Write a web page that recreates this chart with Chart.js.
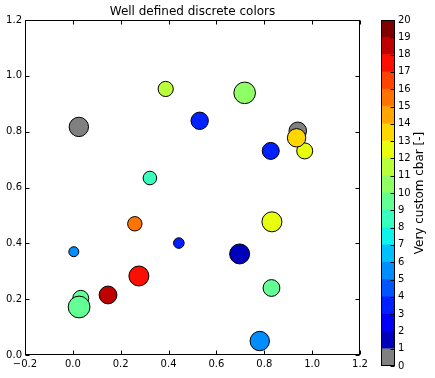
<!DOCTYPE html>
<html>
<head>
<meta charset="utf-8">
<script src="https://cdn.jsdelivr.net/npm/chart.js@4.4.1/dist/chart.umd.min.js"></script>
<style>
  body { margin: 0; background: #fff; }
  #wrap { position: relative; width: 435px; height: 378px; }
  canvas { position: absolute; top: 0; }
</style>
</head>
<body>
<div id="wrap">
  <canvas id="scatter" width="435" height="378" style="left:0"></canvas>
  <canvas id="cbar" width="59" height="378" style="left:376px"></canvas>
</div>
<script>
// scatter points, drawn in this order
var xs     = [0.025, 0.388, 0.530, 0.322, 0.718, 0.827, 0.940, 0.969, 0.935, 0.259, 0.443, 0.004, 0.276, 0.147, 0.033, 0.026, 0.832, 0.697, 0.830, 0.781];
var ys     = [0.817, 0.953, 0.839, 0.634, 0.939, 0.731, 0.803, 0.731, 0.778, 0.470, 0.401, 0.370, 0.283, 0.215, 0.203, 0.172, 0.477, 0.362, 0.240, 0.050];
var sizes  = [9.7, 7.6, 8.7, 6.8, 10.8, 8.5, 8.8, 8.0, 9.2, 7.2, 5.3, 5.0, 10.0, 8.9, 8.0, 10.9, 10.0, 10.0, 8.4, 9.7];
var levels = [0, 11, 3, 8, 10, 3, 0, 12, 13, 15, 3, 5, 17, 18, 9, 9, 12, 1, 9, 5];

// colorbar
var cbarBounds = [0, 1, 2, 3, 4, 5, 6, 7, 8, 9, 10, 11, 12, 13, 14, 15, 16, 17, 18, 19, 20];

var font = 'DejaVu Sans';

// matplotlib jet segments
var jetR = [[0, 0], [0.35, 0], [0.66, 1], [0.89, 1], [1, 0.5]];
var jetG = [[0, 0], [0.125, 0], [0.375, 1], [0.64, 1], [0.91, 0], [1, 0]];
var jetB = [[0, 0.5], [0.11, 1], [0.34, 1], [0.65, 0], [1, 0]];

function seg(s, x) {
  for (var i = 1; i < s.length; i++) {
    if (x <= s[i][0]) {
      var a = s[i - 1], b = s[i];
      return a[1] + (b[1] - a[1]) * (x - a[0]) / (b[0] - a[0]);
    }
  }
  return s[s.length - 1][1];
}

function levelColor(k) {
  if (k === 0) return 'rgb(128,128,128)';   // first entry replaced by grey
  var x = Math.floor(k * 255 / 19) / 255;
  return 'rgb(' + Math.round(seg(jetR, x) * 255) + ',' + Math.round(seg(jetG, x) * 255) + ',' + Math.round(seg(jetB, x) * 255) + ')';
}

function fmt(v) {
  if (Math.abs(v) < 1e-9) v = 0;
  return v.toFixed(1).replace('-', '\u2212');
}

// inward ticks on all four sides plus the box
var frameTicks = {
  id: 'frameTicks',
  afterDraw: function(chart) {
    var ctx = chart.ctx, a = chart.chartArea, len = 4;
    var l = Math.round(a.left) + 0.5, r = Math.round(a.right) - 0.5;
    var t = Math.round(a.top) + 0.5, b = Math.round(a.bottom) - 0.5;
    ctx.save();
    ctx.strokeStyle = '#000';
    ctx.lineWidth = 1;
    ctx.beginPath();
    chart.scales.x.ticks.forEach(function(tk) {
      var px = Math.round(chart.scales.x.getPixelForValue(tk.value)) + 0.5;
      ctx.moveTo(px, b); ctx.lineTo(px, b - len);
      ctx.moveTo(px, t); ctx.lineTo(px, t + len);
    });
    chart.scales.y.ticks.forEach(function(tk) {
      var py = Math.round(chart.scales.y.getPixelForValue(tk.value)) + 0.5;
      ctx.moveTo(l, py); ctx.lineTo(l + len, py);
      ctx.moveTo(r, py); ctx.lineTo(r - len, py);
    });
    ctx.stroke();
    ctx.strokeRect(l, t, r - l, b - t);
    ctx.restore();
  }
};

var points = xs.map(function(x, i) { return { x: x, y: ys[i], r: sizes[i] }; });

new Chart(document.getElementById('scatter').getContext('2d'), {
  type: 'bubble',
  data: {
    datasets: [{
      data: points,
      backgroundColor: levels.map(levelColor),
      borderColor: '#000',
      borderWidth: 1
    }]
  },
  options: {
    responsive: false,
    animation: false,
    layout: { padding: { left: 0, right: 75, top: 0, bottom: 0 } },
    plugins: {
      legend: { display: false },
      tooltip: { enabled: false },
      title: {
        display: true,
        fullSize: false,
        text: 'Well defined discrete colors',
        color: '#000',
        font: { family: font, size: 12, weight: 'normal' },
        padding: { top: 5, bottom: 0.6 }
      }
    },
    scales: {
      x: {
        type: 'linear', min: -0.2, max: 1.2,
        grid: { display: false, drawTicks: false },
        border: { display: false },
        ticks: { stepSize: 0.2, autoSkip: false, maxRotation: 0, padding: 3, color: '#000',
                 font: { family: font, size: 10 }, callback: fmt },
        afterFit: function(s) { s.height = 23; }
      },
      y: {
        type: 'linear', min: 0, max: 1.2,
        grid: { display: false, drawTicks: false },
        border: { display: false },
        ticks: { stepSize: 0.2, autoSkip: false, padding: 3, color: '#000',
                 font: { family: font, size: 10 }, callback: fmt },
        afterFit: function(s) { s.width = 25; }
      }
    }
  },
  plugins: [frameTicks]
});

// colorbar: stacked bar of one unit per level
var cbarSets = cbarBounds.slice(0, -1).map(function(k) {
  return { data: [1], backgroundColor: levelColor(k), borderWidth: 0,
           barPercentage: 1, categoryPercentage: 1 };
});

var cbarFrame = {
  id: 'cbarFrame',
  afterDraw: function(chart) {
    var ctx = chart.ctx, a = chart.chartArea, ys2 = chart.scales.y;
    var l = Math.round(a.left) + 0.5, r = Math.round(a.right) - 0.5;
    var t = Math.round(a.top) + 0.5, b = Math.round(a.bottom) - 0.5;
    ctx.save();
    ctx.strokeStyle = '#000';
    ctx.lineWidth = 1;
    ctx.beginPath();
    ys2.ticks.forEach(function(tk) {
      var py = Math.round(ys2.getPixelForValue(tk.value)) + 0.5;
      ctx.moveTo(r, py); ctx.lineTo(r - 4, py);
    });
    ctx.stroke();
    ctx.strokeRect(l, t, r - l, b - t);
    ctx.translate(44, (a.top + a.bottom) / 2);
    ctx.rotate(-Math.PI / 2);
    ctx.fillStyle = '#000';
    ctx.font = '12px "' + font + '"';
    ctx.textAlign = 'center';
    ctx.textBaseline = 'middle';
    ctx.fillText('Very custom cbar [-]', 0, 0);
    ctx.restore();
  }
};

new Chart(document.getElementById('cbar').getContext('2d'), {
  type: 'bar',
  data: { labels: [''], datasets: cbarSets },
  options: {
    responsive: false,
    animation: false,
    layout: { padding: { left: 5, right: 0, top: 20, bottom: 12 } },
    plugins: { legend: { display: false }, tooltip: { enabled: false } },
    scales: {
      x: { stacked: true, display: false },
      y: {
        stacked: true, position: 'right', min: 0, max: 20,
        grid: { display: false, drawTicks: false },
        border: { display: false },
        ticks: { stepSize: 1, autoSkip: false, padding: 3, color: '#000',
                 font: { family: font, size: 10 } },
        afterFit: function(s) { s.width = 40; }
      }
    }
  },
  plugins: [cbarFrame]
});
</script>
</body>
</html>
